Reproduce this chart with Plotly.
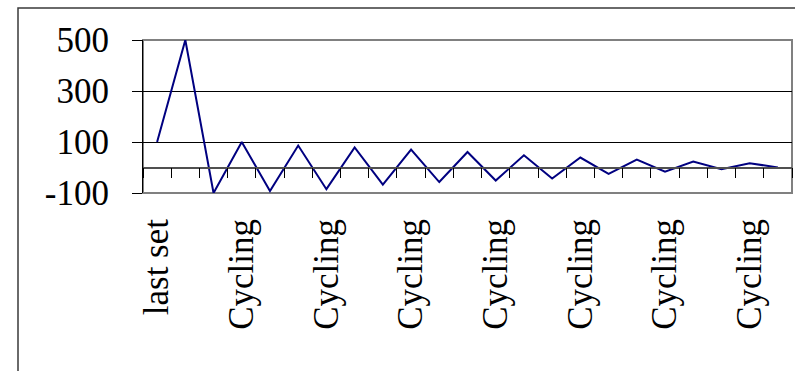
import plotly.graph_objects as go

# Series values, one per category
values = [100, 500, -100, 100, -92, 86, -85, 79, -67, 70, -57, 61,
          -51, 48, -43, 39, -25, 31, -16, 23, -7, 17, 0]
categories = ["last set"] + ["Cycling"] * (len(values) - 1)
label_step = 3                      # every third category label is shown
y_ticks = [-100, 100, 300, 500]
y_tick_text = ["-100", "100", "300", "500"]
y_range = [-100, 500]

W, H = 795, 371
M = dict(l=143, r=3, t=40, b=178)
plot_w = W - M["l"] - M["r"]
plot_h = H - M["t"] - M["b"]

FONT = "Liberation Serif, Times New Roman, serif"
idx = list(range(len(values)))
label_idx = idx[::label_step]
boundaries = [i - 0.5 for i in range(len(values) + 1)]
x_range = [-0.5, len(values) - 0.5]

fig = go.Figure()
fig.add_trace(go.Scatter(
    x=idx, y=values, mode="lines",
    line=dict(color="#000080", width=2),
    showlegend=False, hoverinfo="skip",
))
# helper trace so the category axis drawn through zero is rendered
fig.add_trace(go.Scatter(
    x=idx, y=values, mode="none", xaxis="x2",
    showlegend=False, hoverinfo="skip",
))

zero_pos = (0 - y_range[0]) / (y_range[1] - y_range[0])

fig.update_layout(
    width=W, height=H, margin=M,
    paper_bgcolor="white", plot_bgcolor="white",
    font=dict(family=FONT, size=35, color="black"),
    xaxis=dict(
        range=x_range, tickmode="array",
        tickvals=label_idx, ticktext=[categories[i] for i in label_idx],
        tickangle=-90, ticks="", showgrid=False, zeroline=False,
        showline=False, ticklabelstandoff=18,
        tickfont=dict(family=FONT, size=35, color="black"),
    ),
    xaxis2=dict(
        range=x_range, overlaying="x", anchor="free", position=zero_pos,
        side="bottom", tickmode="array", tickvals=boundaries,
        showticklabels=False, ticks="outside", ticklen=10,
        tickcolor="black", tickwidth=1,
        showline=True, linecolor="#505050", linewidth=1.5,
        showgrid=False, zeroline=False,
    ),
    yaxis=dict(
        range=y_range, tickmode="array", tickvals=y_ticks, ticktext=y_tick_text,
        ticks="outside", ticklen=10, tickcolor="black", tickwidth=1,
        showline=True, linecolor="black", linewidth=1,
        showgrid=True, gridcolor="black", gridwidth=1,
        zeroline=False, ticklabelstandoff=16,
        tickfont=dict(family=FONT, size=35, color="black"),
    ),
    shapes=[
        # plot-area frame
        dict(type="rect", xref="paper", yref="paper", x0=0, x1=1, y0=0, y1=1,
             line=dict(color="#808080", width=2), layer="between"),
        # chart-area frame
        dict(type="rect", xref="paper", yref="paper",
             x0=-(M["l"] - 18) / plot_w, x1=(W - M["l"] + 20) / plot_w,
             y0=-(M["b"] + 20) / plot_h, y1=1 + (M["t"] - 8) / plot_h,
             line=dict(color="#3a3a3a", width=1.5), layer="below"),
    ],
)

fig.write_html("out.html")
